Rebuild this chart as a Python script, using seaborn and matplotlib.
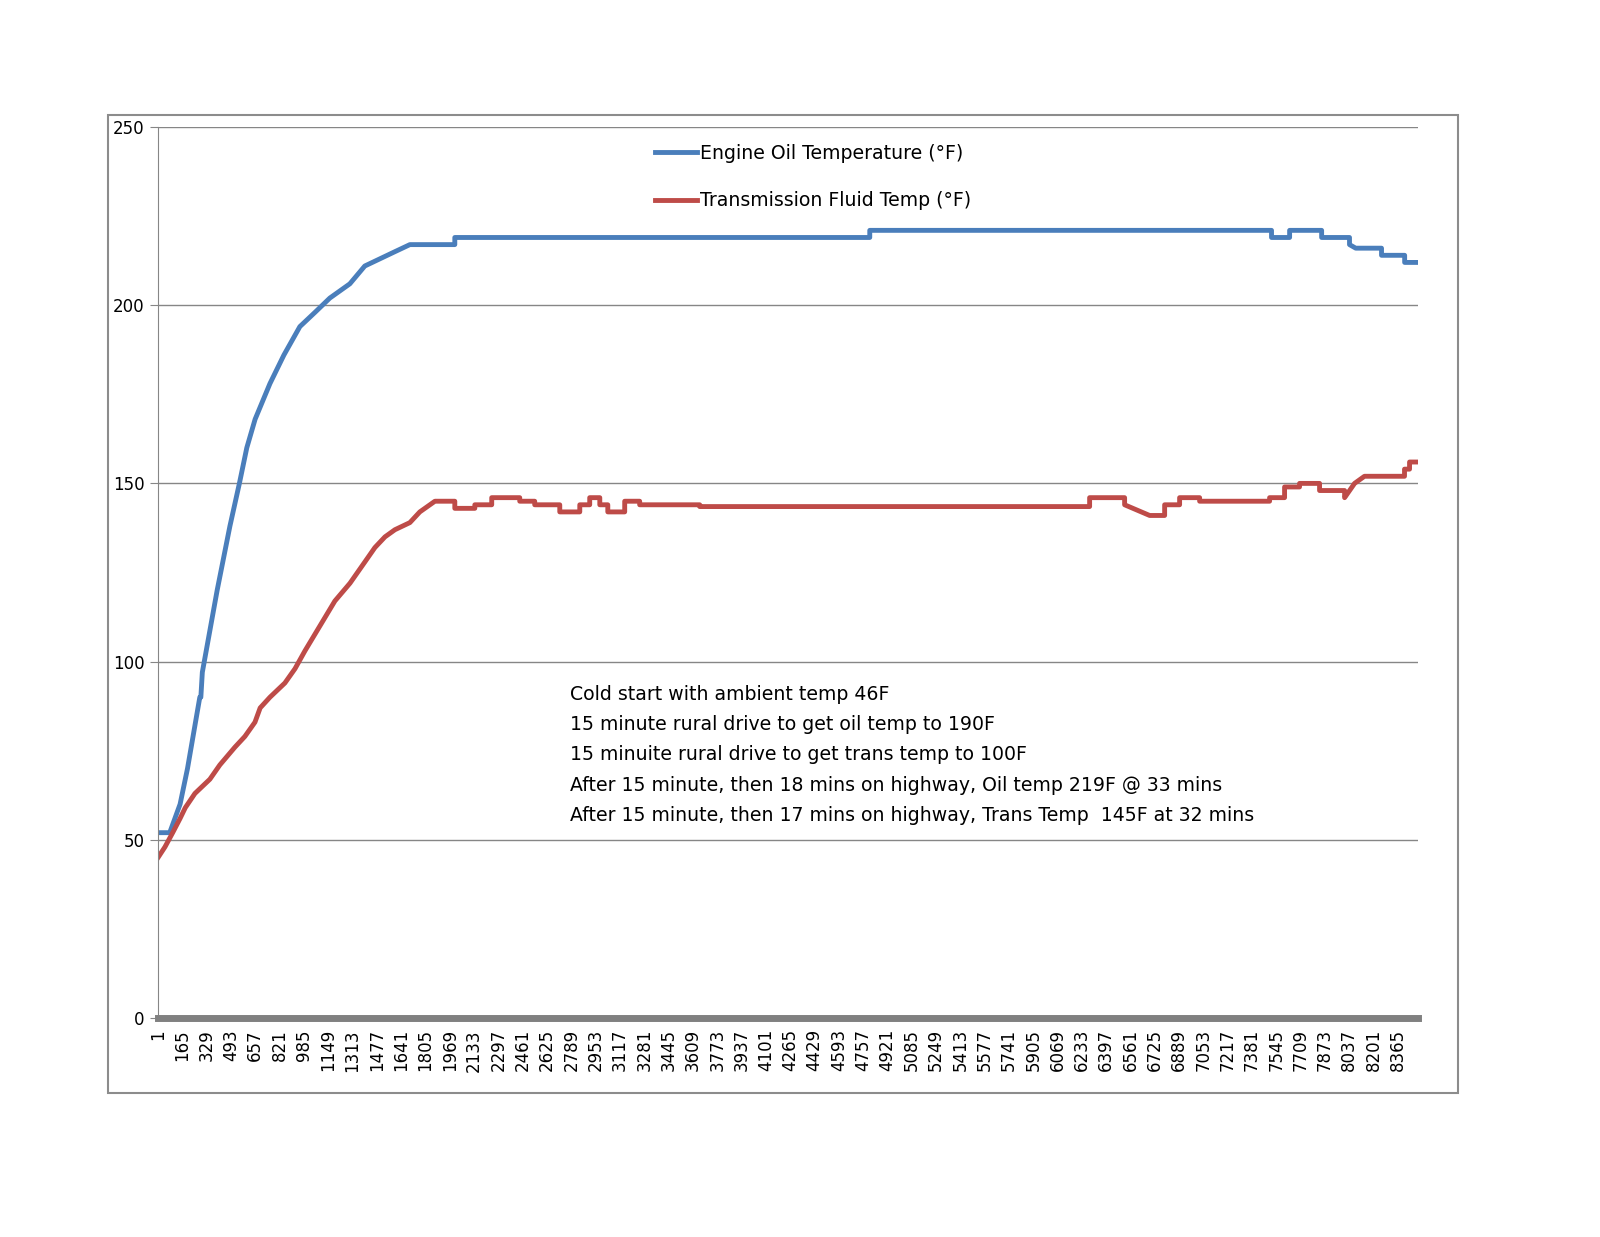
import numpy as np
import pandas as pd
import seaborn as sns
import matplotlib
matplotlib.use("Agg")
import matplotlib.pyplot as plt
from matplotlib.patches import Rectangle

oil_x = [1, 80, 150, 200, 283, 290, 300, 400, 486, 550, 600, 656, 756, 850, 958, 1060, 1160, 1295, 1396, 1497, 1598, 1700, 2003, 2003, 4802, 4802, 7512, 7512, 7634, 7634, 7850, 7850, 8038, 8038, 8080, 8254, 8254, 8410, 8410, 8500]
oil_y = [52, 52, 60, 70, 90, 90, 97, 120, 138, 150, 160, 168, 178, 186, 194, 198, 202, 206, 211, 213, 215, 217, 217, 219, 219, 221, 221, 219, 219, 221, 221, 219, 219, 217, 216, 216, 214, 214, 212, 212]
tr_x = [1, 48, 100, 150, 185, 250, 351, 418, 520, 587, 655, 690, 756, 857, 925, 992, 1093, 1194, 1296, 1397, 1464, 1532, 1599, 1700, 1767, 1869, 2003, 2003, 2138, 2138, 2252, 2252, 2441, 2441, 2542, 2542, 2711, 2711, 2846, 2846, 2913, 2913, 2981, 2981, 3035, 3035, 3149, 3149, 3250, 3250, 3655, 3655, 6285, 6285, 6521, 6521, 6690, 6791, 6791, 6892, 6892, 7027, 7027, 7499, 7499, 7600, 7600, 7701, 7701, 7836, 7836, 8005, 8005, 8072, 8139, 8409, 8409, 8443, 8443, 8500]
tr_y = [45, 48, 52, 56, 59, 63, 67, 71, 76, 79, 83, 87, 90, 94, 98, 103, 110, 117, 122, 128, 132, 135, 137, 139, 142, 145, 145, 143, 143, 144, 144, 146, 146, 145, 145, 144, 144, 142, 142, 144, 144, 146, 146, 144, 144, 142, 142, 145, 145, 144, 144, 143.5, 143.5, 146, 146, 144, 141, 141, 144, 144, 146, 146, 145, 145, 146, 146, 149, 149, 150, 150, 148, 148, 146, 150, 152, 152, 154, 154, 156, 156]
tick_labels = list(range(1, 8366, 164))

fig = plt.figure(figsize=(16, 12.37), dpi=100)
ax = fig.add_axes([158/1600, 1 - 1018/1237, 1260/1600, 891/1237])
fig.add_artist(Rectangle((108/1600, 1 - 1093/1237), 1350/1600, 978/1237,
                         transform=fig.transFigure, fill=False, edgecolor="#8c8c8c", lw=1.5))

df_o = pd.DataFrame({"x": oil_x, "y": oil_y})
df_t = pd.DataFrame({"x": tr_x, "y": tr_y})
sns.lineplot(data=df_o, x="x", y="y", ax=ax, color="#4a7ebb", lw=3.5, sort=False,
             estimator=None, label="Engine Oil Temperature (°F)")
sns.lineplot(data=df_t, x="x", y="y", ax=ax, color="#be4b48", lw=3.5, sort=False,
             estimator=None, label="Transmission Fluid Temp (°F)")

ax.set_xlim(1, 8500)
ax.set_ylim(0, 250)
ax.set_yticks(range(0, 251, 50))
ax.set_xticks(tick_labels)
ax.set_xticklabels([str(t) for t in tick_labels], rotation=90, fontsize=12)
ax.tick_params(axis="y", labelsize=12, length=6, color="#868686")
ax.tick_params(axis="x", length=0, pad=8)
ax.grid(axis="y", color="#868686", lw=1)
ax.set_axisbelow(True)
for s in ["top", "right"]:
    ax.spines[s].set_visible(False)
ax.spines["left"].set_color("#868686")
ax.spines["bottom"].set_color("#808080")
ax.spines["bottom"].set_linewidth(5)
ax.set_xlabel("")
ax.set_ylabel("")
ax.legend(loc="upper center", bbox_to_anchor=(0.52, 1.0), frameon=False, fontsize=13.6,
          handlelength=2.2, labelspacing=1.5, handletextpad=0.2)

txt = ("Cold start with ambient temp 46F\n15 minute rural drive to get oil temp to 190F\n"
       "15 minuite rural drive to get trans temp to 100F\n"
       "After 15 minute, then 18 mins on highway, Oil temp 219F @ 33 mins\n"
       "After 15 minute, then 17 mins on highway, Trans Temp  145F at 32 mins")
fig.text(570/1600, 1 - 685/1237, txt, fontsize=13.6, va="top", ha="left", linespacing=1.75)

fig.savefig("out.png", dpi=100)
